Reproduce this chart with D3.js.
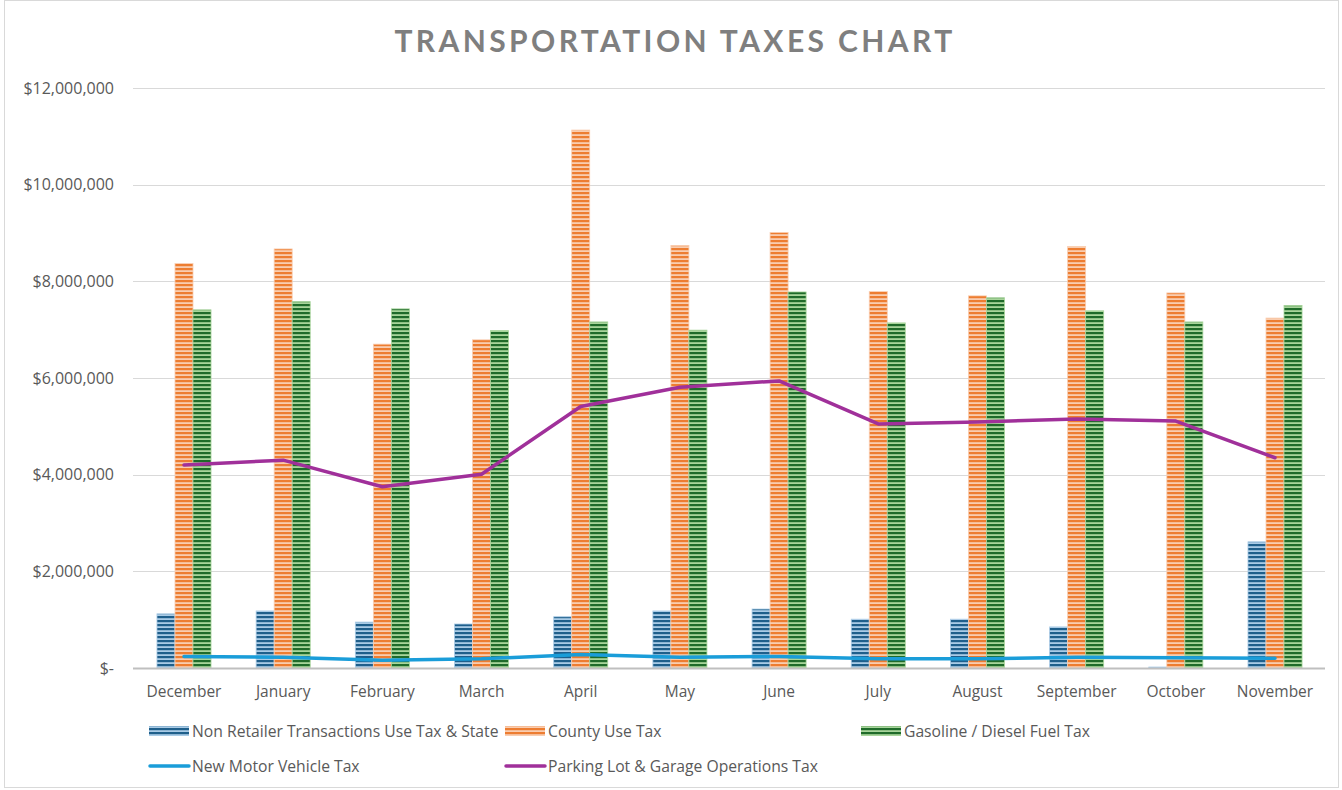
<!DOCTYPE html>
<html>
<head>
<meta charset="utf-8">
<script src="https://cdn.jsdelivr.net/npm/d3@7"></script>
<style>
  body { margin: 0; background: #fff; }
  svg text { font-family: "Open Sans", Lato, sans-serif; }
  svg text.title { font-family: Lato, "Open Sans", sans-serif; }
</style>
</head>
<body>
<div id="chart"></div>
<script>
// data
const months = ["December", "January", "February", "March", "April", "May", "June",
    "July", "August", "September", "October", "November"];
const nonRetailer = [1120000, 1180000, 950000, 910000, 1060000, 1180000, 1220000,
    1010000, 1010000, 850000, 20000, 2610000];
const countyUse = [8370000, 8670000, 6700000, 6790000, 11130000, 8740000, 9010000,
    7790000, 7700000, 8720000, 7760000, 7240000];
const gasoline = [7410000, 7580000, 7430000, 6980000, 7160000, 6990000, 7780000,
    7140000, 7660000, 7390000, 7160000, 7500000];
const newMotor = [240000, 220000, 160000, 190000, 280000, 220000, 240000,
    190000, 190000, 220000, 210000, 200000];
const parking = [4200000, 4300000, 3750000, 4010000, 5410000, 5810000, 5940000,
    5050000, 5090000, 5150000, 5110000, 4350000];
const yTicks = [0, 2000000, 4000000, 6000000, 8000000, 10000000, 12000000];

const barSeries = [
    { name: "Non Retailer Transactions Use Tax & State", values: nonRetailer, id: "pBlue", dark: "#1f5f8b", light: "#a9cbe6" },
    { name: "County Use Tax", values: countyUse, id: "pOrange", dark: "#ed7d31", light: "#f9cdb0" },
    { name: "Gasoline / Diesel Fuel Tax", values: gasoline, id: "pGreen", dark: "#1f6b2a", light: "#a8d59b" }
];
const lineSeries = [
    { name: "New Motor Vehicle Tax", values: newMotor, color: "#1a9dd9" },
    { name: "Parking Lot & Garage Operations Tax", values: parking, color: "#a0309a" }
];

const W = 1342, H = 790;
const margin = { top: 88, right: 17.4, bottom: 122, left: 134.4 };

const svg = d3.select("#chart").append("svg")
    .attr("width", W)
    .attr("height", H);

// outer chart border
svg.append("rect")
    .attr("x", 4.5).attr("y", 0.5)
    .attr("width", W - 8).attr("height", H - 3)
    .attr("fill", "#fff")
    .attr("stroke", "#d9d9d9");

// stripe patterns
const defs = svg.append("defs");
barSeries.forEach(s => {
    const p = defs.append("pattern")
        .attr("id", s.id)
        .attr("patternUnits", "userSpaceOnUse")
        .attr("width", 8).attr("height", 4);
    p.append("rect").attr("width", 8).attr("height", 4).attr("fill", s.light);
    p.append("rect").attr("y", 0).attr("width", 8).attr("height", 2.2).attr("fill", s.dark);
});

const x = d3.scaleBand()
    .domain(months)
    .range([margin.left, W - margin.right])
    .padding(0);

const y = d3.scaleLinear()
    .domain([0, 12000000])
    .range([H - margin.bottom, margin.top]);

const groupW = x.bandwidth() * 0.545;
const x1 = d3.scaleBand()
    .domain(barSeries.map(s => s.name))
    .range([0, groupW]);

// title
svg.append("text")
    .attr("class", "title")
    .attr("x", 675).attr("y", 52)
    .attr("text-anchor", "middle")
    .attr("fill", "#7f7f7f")
    .attr("font-size", 30)
    .attr("font-weight", "bold")
    .attr("letter-spacing", 3.4)
    .text("TRANSPORTATION TAXES CHART");

// gridlines
svg.append("g")
    .selectAll("line")
    .data(yTicks.filter(d => d > 0))
    .join("line")
    .attr("x1", 133).attr("x2", W - 17)
    .attr("y1", d => Math.round(y(d)) + 0.5).attr("y2", d => Math.round(y(d)) + 0.5)
    .attr("stroke", "#d9d9d9");

// y labels
const fmt = d3.format(",");
svg.append("g")
    .selectAll("text")
    .data(yTicks)
    .join("text")
    .attr("x", 114)
    .attr("y", d => y(d) + 5.5)
    .attr("text-anchor", "end")
    .attr("fill", "#595959")
    .attr("font-size", 16)
    .text(d => d === 0 ? "$-" : "$" + fmt(d));

// bars
const groups = svg.append("g")
    .selectAll("g")
    .data(months)
    .join("g")
    .attr("transform", d => "translate(" + (x(d) + (x.bandwidth() - groupW) / 2) + ",0)");

groups.selectAll("rect")
    .data((m, i) => barSeries.map(s => ({ s: s, v: s.values[i] })))
    .join("rect")
    .attr("x", d => x1(d.s.name))
    .attr("width", x1.bandwidth())
    .attr("y", d => y(d.v))
    .attr("height", d => y(0) - y(d.v))
    .attr("fill", d => "url(#" + d.s.id + ")")
    .attr("stroke", d => d.s.light)
    .attr("stroke-width", 0.8);

// x axis line
svg.append("line")
    .attr("x1", 133).attr("x2", W - 17)
    .attr("y1", y(0) + 0.5).attr("y2", y(0) + 0.5)
    .attr("stroke", "#bfbfbf")
    .attr("stroke-width", 2);

// x labels
svg.append("g")
    .selectAll("text")
    .data(months)
    .join("text")
    .attr("x", d => x(d) + x.bandwidth() / 2)
    .attr("y", 697)
    .attr("text-anchor", "middle")
    .attr("fill", "#595959")
    .attr("font-size", 15.5)
    .text(d => d);

// lines
const line = d3.line()
    .x((d, i) => x(months[i]) + x.bandwidth() / 2)
    .y(d => y(d));

lineSeries.forEach(s => {
    svg.append("path")
        .datum(s.values)
        .attr("d", line)
        .attr("fill", "none")
        .attr("stroke", s.color)
        .attr("stroke-width", 3.5)
        .attr("stroke-linejoin", "round")
        .attr("stroke-linecap", "round");
});

// legend
const legendItems = [
    { x: 149, y: 731, bar: barSeries[0] },
    { x: 505, y: 731, bar: barSeries[1] },
    { x: 861, y: 731, bar: barSeries[2] },
    { x: 149, y: 766, line: lineSeries[0] },
    { x: 505, y: 766, line: lineSeries[1] }
];
const legend = svg.append("g");
legendItems.forEach(it => {
    if (it.bar) {
        legend.append("rect")
            .attr("x", it.x).attr("y", it.y - 5)
            .attr("width", 40).attr("height", 10)
            .attr("fill", "url(#" + it.bar.id + ")");
    } else {
        legend.append("line")
            .attr("x1", it.x + 1).attr("x2", it.x + 40)
            .attr("y1", it.y).attr("y2", it.y)
            .attr("stroke", it.line.color)
            .attr("stroke-width", 3.5)
            .attr("stroke-linecap", "round");
    }
    legend.append("text")
        .attr("x", it.x + 43)
        .attr("y", it.y + 5.5)
        .attr("fill", "#595959")
        .attr("font-size", 15.7)
        .text(it.bar ? it.bar.name : it.line.name);
});
</script>
</body>
</html>
